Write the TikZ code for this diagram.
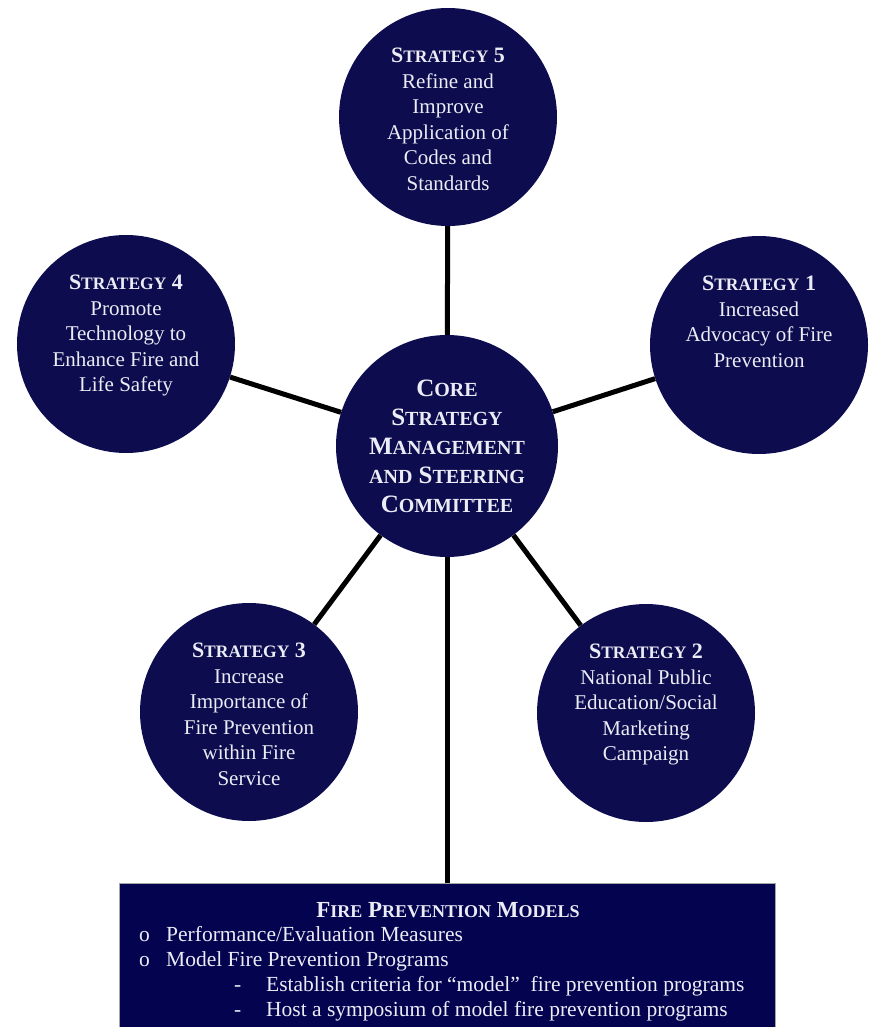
\documentclass[tikz,border=0pt]{standalone}
\usepackage{fontspec}
\setmainfont{Liberation Serif}
\usetikzlibrary{positioning}
\definecolor{navy}{RGB}{12,12,78}
\definecolor{boxblue}{RGB}{3,3,80}
\definecolor{pale}{RGB}{236,236,246}
% fake small caps
\newcommand\smc[2][17.5]{{\fontsize{#1}{#1}\selectfont #2}}
\newcommand\strat[1]{{\bfseries\fontsize{22}{25.5}\selectfont S\smc{TRATEGY} #1}}
\tikzset{
  disc/.style={circle,fill=navy,minimum size=218pt,inner sep=0pt},
  core/.style={disc,minimum size=222pt,text=pale,align=center,
    font=\bfseries\fontsize{25}{29}\selectfont},
  txt/.style={text=pale,align=center,inner sep=0pt,
    font=\fontsize{21}{25.5}\selectfont},
  link/.style={line width=5pt,black},
  panel/.style={rectangle,fill=boxblue,draw=black!35,line width=1pt,
    minimum width=656pt,minimum height=144pt,inner sep=0pt},
  item/.style={text=pale,anchor=base west,inner sep=0pt,
    font=\fontsize{21.5}{25}\selectfont}
}
\begin{document}
\begin{tikzpicture}[x=1pt,y=-1pt]
\useasboundingbox (0,0) rectangle (868,1027);
\node[core] (core) at (447,446) {C\smc[20]{ORE}\\S\smc[20]{TRATEGY}\\M\smc[20]{ANAGEMENT}\\\smc[20]{AND} S\smc[20]{TEERING}\\C\smc[20]{OMMITTEE}};
\node[disc] (s5) at (448,117) {};
\node[disc] (s4) at (126,344) {};
\node[disc] (s1) at (759,345) {};
\node[disc] (s3) at (249,712) {};
\node[disc] (s2) at (646,713) {};
\node[panel] (models) at (447,955) {};
% connectors
\draw[link] (core) -- (s5);
\draw[link] (core) -- (s4);
\draw[link] (core) -- (s1);
\draw[link] (core) -- (s3);
\draw[link] (core) -- (s2);
\draw[link] (core) -- (models);
% strategy texts
\node[txt,below=40pt of s5.north] (s5t) {\strat{5}\\Refine and\\Improve\\Application of\\Codes and\\Standards};
\node[txt,below=40pt of s4.north] (s4t) {\strat{4}\\Promote\\Technology to\\Enhance Fire and\\Life Safety};
\node[txt,below=40pt of s1.north] (s1t) {\strat{1}\\Increased\\Advocacy of Fire\\Prevention};
\node[txt,below=40pt of s3.north] (s3t) {\strat{3}\\Increase\\Importance of\\Fire Prevention\\within Fire\\Service};
\node[txt,below=40pt of s2.north] (s2t) {\strat{2}\\National Public\\Education/Social\\Marketing\\Campaign};
% models box
\node[item,anchor=base,font=\bfseries\fontsize{23}{25}\selectfont] (mtitle) at (448,917) {F\smc[18]{IRE} P\smc[18]{REVENTION} M\smc[18]{ODELS}};
\node[item] (o1) at (139,941) {o};
\node[item] (m1) at (166,941) {Performance/Evaluation Measures};
\node[item] (o2) at (139,966) {o};
\node[item] (m2) at (166,966) {Model Fire Prevention Programs};
\node[item] (d1) at (234,991) {-};
\node[item] (m3) at (266,991) {Establish criteria for “model”\ \ fire prevention programs};
\node[item] (d2) at (234,1016) {-};
\node[item] (m4) at (266,1016) {Host a symposium of model fire prevention programs};
\end{tikzpicture}
\end{document}
